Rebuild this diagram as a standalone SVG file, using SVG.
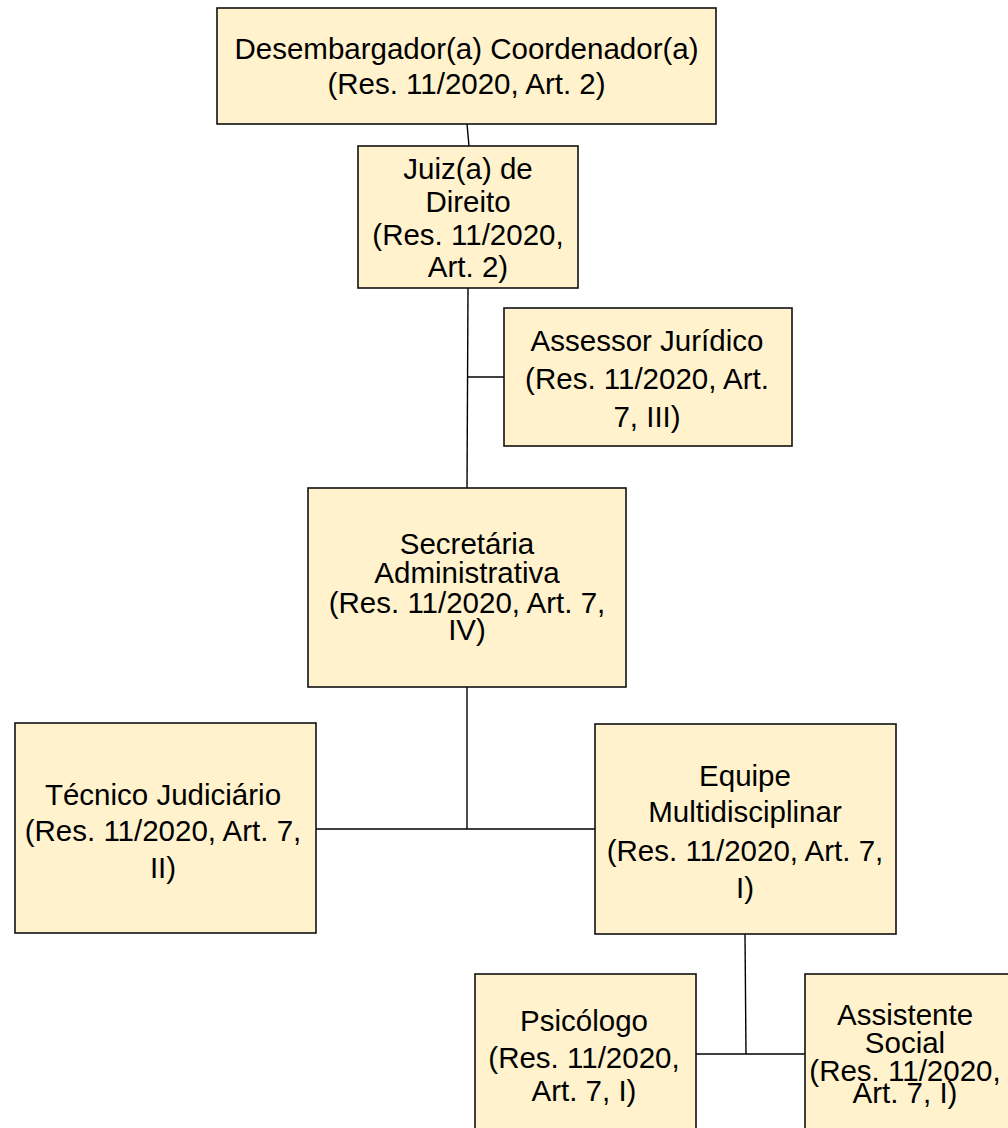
<svg xmlns="http://www.w3.org/2000/svg" width="1008" height="1128" viewBox="0 0 1008 1128">
<style>
.box{fill:#fff2cc;stroke:#111;stroke-width:1.6}
.t{font-family:"Liberation Sans",Arial,sans-serif;font-size:29.5px;fill:#000;text-anchor:middle}
.c{stroke:#000;stroke-width:1.4;fill:none}
</style>
<rect width="1008" height="1128" fill="#fff"/>
<g id="connectors">
<line class="c" x1="467" y1="124" x2="469" y2="146"/>
<line class="c" x1="468" y1="288" x2="467" y2="488"/>
<line class="c" x1="467" y1="377" x2="504" y2="377"/>
<line class="c" x1="467" y1="687" x2="467" y2="829"/>
<line class="c" x1="316" y1="829" x2="595" y2="829"/>
<line class="c" x1="745" y1="934" x2="746" y2="1054"/>
<line class="c" x1="696" y1="1054" x2="805" y2="1054"/>
</g>
<g id="desembargador">
<rect class="box" x="217" y="8" width="499" height="116"/>
<text class="t" x="466.5" y="59">Desembargador(a) Coordenador(a)</text>
<text class="t" x="466.5" y="94">(Res. 11/2020, Art. 2)</text>
</g>
<g id="juiz">
<rect class="box" x="358" y="146" width="220" height="142"/>
<text class="t" x="468" y="179">Juiz(a) de</text>
<text class="t" x="468" y="212">Direito</text>
<text class="t" x="468" y="245">(Res. 11/2020,</text>
<text class="t" x="468" y="277">Art. 2)</text>
</g>
<g id="assessor">
<rect class="box" x="504" y="308" width="288" height="138"/>
<text class="t" x="647" y="351">Assessor Jurídico</text>
<text class="t" x="647" y="389">(Res. 11/2020, Art.</text>
<text class="t" x="647" y="427">7, III)</text>
</g>
<g id="secretaria">
<rect class="box" x="308" y="488" width="318" height="199"/>
<text class="t" x="467" y="554">Secretária</text>
<text class="t" x="467" y="583">Administrativa</text>
<text class="t" x="467" y="613">(Res. 11/2020, Art. 7,</text>
<text class="t" x="467" y="640">IV)</text>
</g>
<g id="tecnico">
<rect class="box" x="15" y="723" width="301" height="210"/>
<text class="t" x="163" y="805">Técnico Judiciário</text>
<text class="t" x="163" y="841">(Res. 11/2020, Art. 7,</text>
<text class="t" x="163" y="878">II)</text>
</g>
<g id="equipe">
<rect class="box" x="595" y="724" width="301" height="210"/>
<text class="t" x="745" y="786">Equipe</text>
<text class="t" x="745" y="822">Multidisciplinar</text>
<text class="t" x="745" y="861">(Res. 11/2020, Art. 7,</text>
<text class="t" x="745" y="898">I)</text>
</g>
<g id="psicologo">
<rect class="box" x="475" y="974" width="221" height="170"/>
<text class="t" x="584" y="1031">Psicólogo</text>
<text class="t" x="584" y="1068">(Res. 11/2020,</text>
<text class="t" x="584" y="1101">Art. 7, I)</text>
</g>
<g id="assistente">
<rect class="box" x="805" y="974" width="221" height="170"/>
<text class="t" x="905" y="1025">Assistente</text>
<text class="t" x="905" y="1053">Social</text>
<text class="t" x="905" y="1081">(Res. 11/2020,</text>
<text class="t" x="905" y="1103">Art. 7, I)</text>
</g>
</svg>
